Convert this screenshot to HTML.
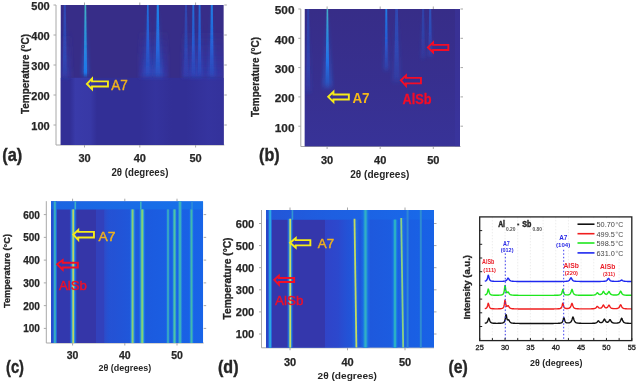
<!DOCTYPE html><html><head><meta charset="utf-8"><style>html,body{margin:0;padding:0;background:#fff;width:637px;height:383px;overflow:hidden}svg{display:block;font-family:"Liberation Sans",sans-serif;will-change:transform}</style></head><body><svg width="637" height="383" viewBox="0 0 637 383" font-family="Liberation Sans, sans-serif"><defs><filter id="blur" x="-1" y="-0.1" width="3" height="1.2"><feGaussianBlur stdDeviation="0.7"/></filter><filter id="lblur" x="-2" y="-0.05" width="5" height="1.1"><feGaussianBlur stdDeviation="0.55 0"/></filter><filter id="gblur" x="-1" y="-0.2" width="3" height="1.4"><feGaussianBlur stdDeviation="1.8"/></filter><filter id="blur2" x="-0.2" y="-0.2" width="1.4" height="1.4"><feGaussianBlur stdDeviation="2"/></filter><clipPath id="c1"><rect x="60.5" y="5" width="163.30" height="140.00"/></clipPath><linearGradient id="g1" x1="0" y1="0" x2="1" y2="0"><stop offset="0" stop-color="rgb(62,66,182)" stop-opacity="0"/><stop offset="0.2" stop-color="rgb(62,66,182)" stop-opacity="0.6"/><stop offset="0.75" stop-color="rgb(62,66,182)" stop-opacity="0.5"/><stop offset="1" stop-color="rgb(62,66,182)" stop-opacity="0"/></linearGradient><linearGradient id="g2" x1="0" y1="0" x2="1" y2="0"><stop offset="0" stop-color="rgb(58,60,175)" stop-opacity="0"/><stop offset="0.5" stop-color="rgb(58,60,175)" stop-opacity="0.3"/><stop offset="1" stop-color="rgb(58,60,175)" stop-opacity="0"/></linearGradient><linearGradient id="g3" x1="0" y1="0" x2="1" y2="0"><stop offset="0" stop-color="rgb(58,60,175)" stop-opacity="0"/><stop offset="0.6" stop-color="rgb(58,60,175)" stop-opacity="0.35"/><stop offset="1" stop-color="rgb(58,60,175)" stop-opacity="0.2"/></linearGradient><linearGradient id="g4" x1="0" y1="0" x2="0" y2="1"><stop offset="0" stop-color="rgb(52,55,170)" stop-opacity="0"/><stop offset="0.6" stop-color="rgb(52,55,170)" stop-opacity="0.44999999999999996"/><stop offset="1" stop-color="rgb(52,55,170)" stop-opacity="0.75"/></linearGradient><linearGradient id="g5" x1="0" y1="0" x2="0" y2="1"><stop offset="0" stop-color="rgb(52,55,170)" stop-opacity="0"/><stop offset="0.6" stop-color="rgb(52,55,170)" stop-opacity="0.51"/><stop offset="1" stop-color="rgb(52,55,170)" stop-opacity="0.85"/></linearGradient><linearGradient id="g6" x1="0" y1="0" x2="0" y2="1"><stop offset="0" stop-color="rgb(52,55,170)" stop-opacity="0"/><stop offset="0.6" stop-color="rgb(52,55,170)" stop-opacity="0.27"/><stop offset="1" stop-color="rgb(52,55,170)" stop-opacity="0.45"/></linearGradient><linearGradient id="g7" x1="0" y1="0" x2="0" y2="1"><stop offset="0" stop-color="rgb(40,100,225)" stop-opacity="0.5"/><stop offset="0.7" stop-color="rgb(40,90,210)" stop-opacity="0.45"/><stop offset="1" stop-color="rgb(40,90,210)" stop-opacity="0"/></linearGradient><linearGradient id="g8" x1="0" y1="0" x2="0" y2="1"><stop offset="0" stop-color="rgb(40,90,210)" stop-opacity="0"/><stop offset="0.5" stop-color="rgb(40,90,210)" stop-opacity="0.1"/><stop offset="0.9" stop-color="rgb(40,90,210)" stop-opacity="0.2"/><stop offset="1" stop-color="rgb(40,90,210)" stop-opacity="0"/></linearGradient><linearGradient id="g9" x1="0" y1="0" x2="0" y2="1"><stop offset="0" stop-color="rgb(70,180,195)" stop-opacity="1.0"/><stop offset="0.92" stop-color="rgb(25,125,240)" stop-opacity="0.9"/><stop offset="1" stop-color="rgb(25,125,240)" stop-opacity="0"/></linearGradient><linearGradient id="g10" x1="0" y1="0" x2="0" y2="1"><stop offset="0" stop-color="rgb(25,125,240)" stop-opacity="0"/><stop offset="0.5" stop-color="rgb(25,125,240)" stop-opacity="0.18000000000000002"/><stop offset="0.9" stop-color="rgb(25,125,240)" stop-opacity="0.36000000000000004"/><stop offset="1" stop-color="rgb(25,125,240)" stop-opacity="0"/></linearGradient><linearGradient id="g11" x1="0" y1="0" x2="0" y2="1"><stop offset="0" stop-color="rgb(30,125,235)" stop-opacity="0.85"/><stop offset="0.55" stop-color="rgb(35,100,225)" stop-opacity="0.765"/><stop offset="1" stop-color="rgb(35,100,225)" stop-opacity="0"/></linearGradient><linearGradient id="g12" x1="0" y1="0" x2="0" y2="1"><stop offset="0" stop-color="rgb(35,100,225)" stop-opacity="0"/><stop offset="0.5" stop-color="rgb(35,100,225)" stop-opacity="0.2"/><stop offset="0.9" stop-color="rgb(35,100,225)" stop-opacity="0.4"/><stop offset="1" stop-color="rgb(35,100,225)" stop-opacity="0"/></linearGradient><linearGradient id="g13" x1="0" y1="0" x2="0" y2="1"><stop offset="0" stop-color="rgb(30,140,240)" stop-opacity="0.95"/><stop offset="0.6" stop-color="rgb(35,110,230)" stop-opacity="0.855"/><stop offset="1" stop-color="rgb(35,110,230)" stop-opacity="0"/></linearGradient><linearGradient id="g14" x1="0" y1="0" x2="0" y2="1"><stop offset="0" stop-color="rgb(35,110,230)" stop-opacity="0"/><stop offset="0.5" stop-color="rgb(35,110,230)" stop-opacity="0.2"/><stop offset="0.9" stop-color="rgb(35,110,230)" stop-opacity="0.4"/><stop offset="1" stop-color="rgb(35,110,230)" stop-opacity="0"/></linearGradient><linearGradient id="g15" x1="0" y1="0" x2="0" y2="1"><stop offset="0" stop-color="rgb(40,95,215)" stop-opacity="0.5"/><stop offset="0.6" stop-color="rgb(40,90,210)" stop-opacity="0.45"/><stop offset="1" stop-color="rgb(40,90,210)" stop-opacity="0"/></linearGradient><linearGradient id="g16" x1="0" y1="0" x2="0" y2="1"><stop offset="0" stop-color="rgb(40,90,210)" stop-opacity="0"/><stop offset="0.5" stop-color="rgb(40,90,210)" stop-opacity="0.08000000000000002"/><stop offset="0.9" stop-color="rgb(40,90,210)" stop-opacity="0.16000000000000003"/><stop offset="1" stop-color="rgb(40,90,210)" stop-opacity="0"/></linearGradient><linearGradient id="g17" x1="0" y1="0" x2="0" y2="1"><stop offset="0" stop-color="rgb(30,125,235)" stop-opacity="0.8"/><stop offset="0.55" stop-color="rgb(35,100,225)" stop-opacity="0.7200000000000001"/><stop offset="1" stop-color="rgb(35,100,225)" stop-opacity="0"/></linearGradient><linearGradient id="g18" x1="0" y1="0" x2="0" y2="1"><stop offset="0" stop-color="rgb(35,100,225)" stop-opacity="0"/><stop offset="0.5" stop-color="rgb(35,100,225)" stop-opacity="0.12"/><stop offset="0.9" stop-color="rgb(35,100,225)" stop-opacity="0.24"/><stop offset="1" stop-color="rgb(35,100,225)" stop-opacity="0"/></linearGradient><linearGradient id="g19" x1="0" y1="0" x2="0" y2="1"><stop offset="0" stop-color="rgb(30,125,235)" stop-opacity="0.8"/><stop offset="0.55" stop-color="rgb(35,100,225)" stop-opacity="0.7200000000000001"/><stop offset="1" stop-color="rgb(35,100,225)" stop-opacity="0"/></linearGradient><linearGradient id="g20" x1="0" y1="0" x2="0" y2="1"><stop offset="0" stop-color="rgb(35,100,225)" stop-opacity="0"/><stop offset="0.5" stop-color="rgb(35,100,225)" stop-opacity="0.12"/><stop offset="0.9" stop-color="rgb(35,100,225)" stop-opacity="0.24"/><stop offset="1" stop-color="rgb(35,100,225)" stop-opacity="0"/></linearGradient><linearGradient id="g21" x1="0" y1="0" x2="0" y2="1"><stop offset="0" stop-color="rgb(30,135,240)" stop-opacity="0.9"/><stop offset="0.55" stop-color="rgb(35,105,228)" stop-opacity="0.81"/><stop offset="1" stop-color="rgb(35,105,228)" stop-opacity="0"/></linearGradient><linearGradient id="g22" x1="0" y1="0" x2="0" y2="1"><stop offset="0" stop-color="rgb(35,105,228)" stop-opacity="0"/><stop offset="0.5" stop-color="rgb(35,105,228)" stop-opacity="0.13999999999999999"/><stop offset="0.9" stop-color="rgb(35,105,228)" stop-opacity="0.27999999999999997"/><stop offset="1" stop-color="rgb(35,105,228)" stop-opacity="0"/></linearGradient><clipPath id="c2"><rect x="304.5" y="9" width="155.50" height="137.50"/></clipPath><linearGradient id="g23" x1="0" y1="0" x2="0" y2="1"><stop offset="0" stop-color="rgb(56,54,162)" stop-opacity="0"/><stop offset="0.5" stop-color="rgb(56,54,162)" stop-opacity="0.25"/><stop offset="1" stop-color="rgb(56,54,162)" stop-opacity="0.6"/></linearGradient><linearGradient id="g24" x1="0" y1="0" x2="0" y2="1"><stop offset="0" stop-color="rgb(40,90,210)" stop-opacity="0.45"/><stop offset="0.7" stop-color="rgb(40,85,205)" stop-opacity="0.405"/><stop offset="1" stop-color="rgb(40,85,205)" stop-opacity="0"/></linearGradient><linearGradient id="g25" x1="0" y1="0" x2="0" y2="1"><stop offset="0" stop-color="rgb(40,85,205)" stop-opacity="0"/><stop offset="0.5" stop-color="rgb(40,85,205)" stop-opacity="0.08000000000000002"/><stop offset="0.9" stop-color="rgb(40,85,205)" stop-opacity="0.16000000000000003"/><stop offset="1" stop-color="rgb(40,85,205)" stop-opacity="0"/></linearGradient><linearGradient id="g26" x1="0" y1="0" x2="0" y2="1"><stop offset="0" stop-color="rgb(70,175,200)" stop-opacity="1.0"/><stop offset="0.65" stop-color="rgb(30,120,238)" stop-opacity="0.9"/><stop offset="1" stop-color="rgb(30,120,238)" stop-opacity="0"/></linearGradient><linearGradient id="g27" x1="0" y1="0" x2="0" y2="1"><stop offset="0" stop-color="rgb(30,120,238)" stop-opacity="0"/><stop offset="0.5" stop-color="rgb(30,120,238)" stop-opacity="0.18000000000000002"/><stop offset="0.9" stop-color="rgb(30,120,238)" stop-opacity="0.36000000000000004"/><stop offset="1" stop-color="rgb(30,120,238)" stop-opacity="0"/></linearGradient><linearGradient id="g28" x1="0" y1="0" x2="0" y2="1"><stop offset="0" stop-color="rgb(30,135,240)" stop-opacity="0.9"/><stop offset="0.5" stop-color="rgb(35,100,225)" stop-opacity="0.81"/><stop offset="1" stop-color="rgb(35,100,225)" stop-opacity="0"/></linearGradient><linearGradient id="g29" x1="0" y1="0" x2="0" y2="1"><stop offset="0" stop-color="rgb(35,100,225)" stop-opacity="0"/><stop offset="0.5" stop-color="rgb(35,100,225)" stop-opacity="0.12"/><stop offset="0.9" stop-color="rgb(35,100,225)" stop-opacity="0.24"/><stop offset="1" stop-color="rgb(35,100,225)" stop-opacity="0"/></linearGradient><linearGradient id="g30" x1="0" y1="0" x2="0" y2="1"><stop offset="0" stop-color="rgb(40,100,220)" stop-opacity="0.5"/><stop offset="0.55" stop-color="rgb(40,95,215)" stop-opacity="0.45"/><stop offset="1" stop-color="rgb(40,95,215)" stop-opacity="0"/></linearGradient><linearGradient id="g31" x1="0" y1="0" x2="0" y2="1"><stop offset="0" stop-color="rgb(40,95,215)" stop-opacity="0"/><stop offset="0.5" stop-color="rgb(40,95,215)" stop-opacity="0.1"/><stop offset="0.9" stop-color="rgb(40,95,215)" stop-opacity="0.2"/><stop offset="1" stop-color="rgb(40,95,215)" stop-opacity="0"/></linearGradient><linearGradient id="g32" x1="0" y1="0" x2="0" y2="1"><stop offset="0" stop-color="rgb(40,95,215)" stop-opacity="0.4"/><stop offset="0.5" stop-color="rgb(40,90,210)" stop-opacity="0.36000000000000004"/><stop offset="1" stop-color="rgb(40,90,210)" stop-opacity="0"/></linearGradient><linearGradient id="g33" x1="0" y1="0" x2="0" y2="1"><stop offset="0" stop-color="rgb(40,90,210)" stop-opacity="0"/><stop offset="0.5" stop-color="rgb(40,90,210)" stop-opacity="0.08000000000000002"/><stop offset="0.9" stop-color="rgb(40,90,210)" stop-opacity="0.16000000000000003"/><stop offset="1" stop-color="rgb(40,90,210)" stop-opacity="0"/></linearGradient><linearGradient id="g34" x1="0" y1="0" x2="0" y2="1"><stop offset="0" stop-color="rgb(40,110,225)" stop-opacity="0.55"/><stop offset="0.5" stop-color="rgb(40,95,215)" stop-opacity="0.49500000000000005"/><stop offset="1" stop-color="rgb(40,95,215)" stop-opacity="0"/></linearGradient><linearGradient id="g35" x1="0" y1="0" x2="0" y2="1"><stop offset="0" stop-color="rgb(40,95,215)" stop-opacity="0"/><stop offset="0.5" stop-color="rgb(40,95,215)" stop-opacity="0.1"/><stop offset="0.9" stop-color="rgb(40,95,215)" stop-opacity="0.2"/><stop offset="1" stop-color="rgb(40,95,215)" stop-opacity="0"/></linearGradient><clipPath id="c3"><rect x="51" y="201.2" width="152.20" height="141.80"/></clipPath><linearGradient id="g36" x1="0" y1="0" x2="1" y2="0"><stop offset="0" stop-color="rgb(35,78,208)" stop-opacity="1"/><stop offset="0.35" stop-color="rgb(38,80,210)" stop-opacity="1"/><stop offset="0.6" stop-color="rgb(28,90,222)" stop-opacity="1"/><stop offset="1" stop-color="rgb(24,100,232)" stop-opacity="1"/></linearGradient><linearGradient id="g37" x1="0" y1="0" x2="1" y2="0"><stop offset="0" stop-color="rgb(45,75,200)" stop-opacity="1"/><stop offset="1" stop-color="rgb(30,88,218)" stop-opacity="0"/></linearGradient><linearGradient id="g38" x1="0" y1="0" x2="1" y2="0"><stop offset="0" stop-color="rgb(28,100,225)" stop-opacity="1"/><stop offset="1" stop-color="rgb(22,114,234)" stop-opacity="1"/></linearGradient><linearGradient id="g39" x1="0" y1="0" x2="1" y2="0"><stop offset="0" stop-color="rgb(30,110,232)" stop-opacity="0"/><stop offset="0.3" stop-color="rgb(30,110,232)" stop-opacity="0.8"/><stop offset="0.7" stop-color="rgb(30,110,232)" stop-opacity="0.8"/><stop offset="1" stop-color="rgb(30,110,232)" stop-opacity="0"/></linearGradient><linearGradient id="g40" x1="0" y1="0" x2="1" y2="0"><stop offset="0" stop-color="rgb(25,115,238)" stop-opacity="0"/><stop offset="0.3" stop-color="rgb(25,115,238)" stop-opacity="1.0"/><stop offset="0.7" stop-color="rgb(25,115,238)" stop-opacity="1.0"/><stop offset="1" stop-color="rgb(25,115,238)" stop-opacity="0"/></linearGradient><linearGradient id="g41" x1="0" y1="0" x2="1" y2="0"><stop offset="0" stop-color="rgb(30,130,238)" stop-opacity="0"/><stop offset="0.3" stop-color="rgb(30,130,238)" stop-opacity="0.9"/><stop offset="0.7" stop-color="rgb(30,130,238)" stop-opacity="0.9"/><stop offset="1" stop-color="rgb(30,130,238)" stop-opacity="0"/></linearGradient><linearGradient id="g42" x1="0" y1="0" x2="1" y2="0"><stop offset="0" stop-color="rgb(30,130,238)" stop-opacity="0"/><stop offset="0.3" stop-color="rgb(30,130,238)" stop-opacity="0.9"/><stop offset="0.7" stop-color="rgb(30,130,238)" stop-opacity="0.9"/><stop offset="1" stop-color="rgb(30,130,238)" stop-opacity="0"/></linearGradient><linearGradient id="g43" x1="0" y1="0" x2="1" y2="0"><stop offset="0" stop-color="rgb(30,120,232)" stop-opacity="0"/><stop offset="0.3" stop-color="rgb(30,120,232)" stop-opacity="0.8"/><stop offset="0.7" stop-color="rgb(30,120,232)" stop-opacity="0.8"/><stop offset="1" stop-color="rgb(30,120,232)" stop-opacity="0"/></linearGradient><linearGradient id="g44" x1="0" y1="0" x2="1" y2="0"><stop offset="0" stop-color="rgb(30,120,232)" stop-opacity="0"/><stop offset="0.3" stop-color="rgb(30,120,232)" stop-opacity="0.8"/><stop offset="0.7" stop-color="rgb(30,120,232)" stop-opacity="0.8"/><stop offset="1" stop-color="rgb(30,120,232)" stop-opacity="0"/></linearGradient><linearGradient id="g45" x1="0" y1="0" x2="1" y2="0"><stop offset="0" stop-color="rgb(30,120,232)" stop-opacity="0"/><stop offset="0.3" stop-color="rgb(30,120,232)" stop-opacity="0.8"/><stop offset="0.7" stop-color="rgb(30,120,232)" stop-opacity="0.8"/><stop offset="1" stop-color="rgb(30,120,232)" stop-opacity="0"/></linearGradient><linearGradient id="g46" x1="0" y1="0" x2="1" y2="0"><stop offset="0" stop-color="rgb(30,120,232)" stop-opacity="0"/><stop offset="0.3" stop-color="rgb(30,120,232)" stop-opacity="0.7"/><stop offset="0.7" stop-color="rgb(30,120,232)" stop-opacity="0.7"/><stop offset="1" stop-color="rgb(30,120,232)" stop-opacity="0"/></linearGradient><clipPath id="c4"><rect x="266" y="210" width="168.00" height="137.80"/></clipPath><linearGradient id="g47" x1="0" y1="0" x2="1" y2="0"><stop offset="0" stop-color="rgb(40,78,205)" stop-opacity="1"/><stop offset="0.5" stop-color="rgb(32,86,218)" stop-opacity="1"/><stop offset="1" stop-color="rgb(24,98,230)" stop-opacity="1"/></linearGradient><linearGradient id="g48" x1="0" y1="0" x2="1" y2="0"><stop offset="0" stop-color="rgb(48,68,200)" stop-opacity="1"/><stop offset="0.4" stop-color="rgb(44,72,205)" stop-opacity="1"/><stop offset="1" stop-color="rgb(32,86,218)" stop-opacity="0"/></linearGradient><linearGradient id="g49" x1="0" y1="0" x2="1" y2="0"><stop offset="0" stop-color="rgb(35,85,215)" stop-opacity="1"/><stop offset="0.4" stop-color="rgb(30,95,225)" stop-opacity="1"/><stop offset="1" stop-color="rgb(24,106,234)" stop-opacity="1"/></linearGradient><linearGradient id="g50" x1="0" y1="0" x2="1" y2="0"><stop offset="0" stop-color="rgb(30,110,232)" stop-opacity="0"/><stop offset="0.3" stop-color="rgb(30,110,232)" stop-opacity="0.8"/><stop offset="0.7" stop-color="rgb(30,110,232)" stop-opacity="0.8"/><stop offset="1" stop-color="rgb(30,110,232)" stop-opacity="0"/></linearGradient><linearGradient id="g51" x1="0" y1="0" x2="1" y2="0"><stop offset="0" stop-color="rgb(25,110,235)" stop-opacity="0"/><stop offset="0.3" stop-color="rgb(25,110,235)" stop-opacity="0.9"/><stop offset="0.7" stop-color="rgb(25,110,235)" stop-opacity="0.9"/><stop offset="1" stop-color="rgb(25,110,235)" stop-opacity="0"/></linearGradient><linearGradient id="g52" x1="0" y1="0" x2="1" y2="0"><stop offset="0" stop-color="rgb(30,120,235)" stop-opacity="0"/><stop offset="0.5" stop-color="rgb(30,120,235)" stop-opacity="0.7"/><stop offset="1" stop-color="rgb(30,120,235)" stop-opacity="0"/></linearGradient><linearGradient id="g53" x1="0" y1="0" x2="1" y2="0"><stop offset="0" stop-color="rgb(25,115,232)" stop-opacity="0"/><stop offset="0.3" stop-color="rgb(25,115,232)" stop-opacity="0.8"/><stop offset="0.7" stop-color="rgb(25,115,232)" stop-opacity="0.8"/><stop offset="1" stop-color="rgb(25,115,232)" stop-opacity="0"/></linearGradient><linearGradient id="g54" x1="0" y1="0" x2="1" y2="0"><stop offset="0" stop-color="rgb(25,115,232)" stop-opacity="0"/><stop offset="0.3" stop-color="rgb(25,115,232)" stop-opacity="0.8"/><stop offset="0.7" stop-color="rgb(25,115,232)" stop-opacity="0.8"/><stop offset="1" stop-color="rgb(25,115,232)" stop-opacity="0"/></linearGradient><linearGradient id="g55" x1="0" y1="0" x2="1" y2="0"><stop offset="0" stop-color="rgb(30,120,235)" stop-opacity="0"/><stop offset="0.5" stop-color="rgb(30,120,235)" stop-opacity="0.7"/><stop offset="1" stop-color="rgb(30,120,235)" stop-opacity="0"/></linearGradient></defs><rect width="637" height="383" fill="#fff"/><line x1="56" y1="5" x2="56" y2="145" stroke="#a8a8a8" stroke-width="1"/>
<line x1="56" y1="145" x2="224.3" y2="145" stroke="#a8a8a8" stroke-width="1"/>
<line x1="53.5" y1="5" x2="56" y2="5" stroke="#a8a8a8" stroke-width="1"/>
<line x1="224.3" y1="5" x2="226.8" y2="5" stroke="#a8a8a8" stroke-width="1"/>
<text x="49.7" y="10.2" font-size="11" font-weight="bold" fill="#262626" text-anchor="end" stroke="#262626" stroke-width="0.25">500</text>
<line x1="53.5" y1="35" x2="56" y2="35" stroke="#a8a8a8" stroke-width="1"/>
<line x1="224.3" y1="35" x2="226.8" y2="35" stroke="#a8a8a8" stroke-width="1"/>
<text x="49.7" y="40.2" font-size="11" font-weight="bold" fill="#262626" text-anchor="end" stroke="#262626" stroke-width="0.25">400</text>
<line x1="53.5" y1="65" x2="56" y2="65" stroke="#a8a8a8" stroke-width="1"/>
<line x1="224.3" y1="65" x2="226.8" y2="65" stroke="#a8a8a8" stroke-width="1"/>
<text x="49.7" y="70.2" font-size="11" font-weight="bold" fill="#262626" text-anchor="end" stroke="#262626" stroke-width="0.25">300</text>
<line x1="53.5" y1="95" x2="56" y2="95" stroke="#a8a8a8" stroke-width="1"/>
<line x1="224.3" y1="95" x2="226.8" y2="95" stroke="#a8a8a8" stroke-width="1"/>
<text x="49.7" y="100.2" font-size="11" font-weight="bold" fill="#262626" text-anchor="end" stroke="#262626" stroke-width="0.25">200</text>
<line x1="53.5" y1="125" x2="56" y2="125" stroke="#a8a8a8" stroke-width="1"/>
<line x1="224.3" y1="125" x2="226.8" y2="125" stroke="#a8a8a8" stroke-width="1"/>
<text x="49.7" y="130.2" font-size="11" font-weight="bold" fill="#262626" text-anchor="end" stroke="#262626" stroke-width="0.25">100</text>
<line x1="84.5" y1="145" x2="84.5" y2="147.5" stroke="#a8a8a8" stroke-width="1"/>
<line x1="84.5" y1="2.5" x2="84.5" y2="5" stroke="#a8a8a8" stroke-width="1"/>
<text x="84.5" y="162.3" font-size="11" font-weight="bold" fill="#262626" text-anchor="middle" stroke="#262626" stroke-width="0.25">30</text>
<line x1="139.8" y1="145" x2="139.8" y2="147.5" stroke="#a8a8a8" stroke-width="1"/>
<line x1="139.8" y1="2.5" x2="139.8" y2="5" stroke="#a8a8a8" stroke-width="1"/>
<text x="139.8" y="162.3" font-size="11" font-weight="bold" fill="#262626" text-anchor="middle" stroke="#262626" stroke-width="0.25">40</text>
<line x1="195.6" y1="145" x2="195.6" y2="147.5" stroke="#a8a8a8" stroke-width="1"/>
<line x1="195.6" y1="2.5" x2="195.6" y2="5" stroke="#a8a8a8" stroke-width="1"/>
<text x="195.6" y="162.3" font-size="11" font-weight="bold" fill="#262626" text-anchor="middle" stroke="#262626" stroke-width="0.25">50</text>
<g clip-path="url(#c1)">
<rect x="60.50" y="5.00" width="163.30" height="140.00" fill="rgb(55,45,136)"/>
<rect x="60.50" y="77.80" width="163.30" height="67.20" fill="rgb(50,47,150)"/>
<rect x="70.00" y="77.80" width="27.00" height="67.20" fill="url(#g1)"/>
<rect x="140.00" y="77.80" width="32.00" height="67.20" fill="url(#g2)"/>
<rect x="186.00" y="77.80" width="37.80" height="67.20" fill="url(#g3)"/>
<rect x="139.00" y="30.00" width="29.00" height="47.80" fill="url(#g4)" filter="url(#gblur)"/>
<rect x="182.00" y="30.00" width="41.80" height="47.80" fill="url(#g5)" filter="url(#gblur)"/>
<rect x="60.50" y="30.00" width="11.50" height="47.80" fill="url(#g6)" filter="url(#gblur)"/>
<path d="M63.80,5 L65.80,5 L66.80,80 L62.80,80 Z" fill="url(#g7)" filter="url(#blur)"/>
<path d="M62.80,5 L66.80,5 L68.80,81 L60.80,81 Z" fill="url(#g8)" filter="url(#gblur)"/>
<path d="M84.60,5 L86.20,5 L87.10,78 L83.70,78 Z" fill="url(#g9)" filter="url(#blur)"/>
<path d="M83.80,5 L87.00,5 L89.40,79 L81.40,79 Z" fill="url(#g10)" filter="url(#gblur)"/>
<path d="M147.00,5 L148.60,5 L149.80,79 L145.80,79 Z" fill="url(#g11)" filter="url(#blur)"/>
<path d="M146.20,5 L149.40,5 L152.80,80 L142.80,80 Z" fill="url(#g12)" filter="url(#gblur)"/>
<path d="M156.80,5 L158.80,5 L160.05,79 L155.55,79 Z" fill="url(#g13)" filter="url(#blur)"/>
<path d="M155.80,5 L159.80,5 L163.30,80 L152.30,80 Z" fill="url(#g14)" filter="url(#gblur)"/>
<path d="M185.00,5 L187.00,5 L188.00,79 L184.00,79 Z" fill="url(#g15)" filter="url(#blur)"/>
<path d="M184.00,5 L188.00,5 L189.00,80 L183.00,80 Z" fill="url(#g16)" filter="url(#gblur)"/>
<path d="M192.40,5 L194.20,5 L195.05,79 L191.55,79 Z" fill="url(#g17)" filter="url(#blur)"/>
<path d="M191.50,5 L195.10,5 L197.30,80 L189.30,80 Z" fill="url(#g18)" filter="url(#gblur)"/>
<path d="M198.70,5 L200.50,5 L201.35,79 L197.85,79 Z" fill="url(#g19)" filter="url(#blur)"/>
<path d="M197.80,5 L201.40,5 L203.60,80 L195.60,80 Z" fill="url(#g20)" filter="url(#gblur)"/>
<path d="M210.80,5 L212.80,5 L213.80,79 L209.80,79 Z" fill="url(#g21)" filter="url(#blur)"/>
<path d="M209.80,5 L213.80,5 L216.30,80 L207.30,80 Z" fill="url(#g22)" filter="url(#gblur)"/>
</g>
<text x="2.3" y="161.0" font-size="18.5" font-weight="bold" fill="#262626" textLength="20" lengthAdjust="spacingAndGlyphs" stroke="#262626" stroke-width="0.4">(a)</text>
<text x="139.9" y="176" font-size="10" font-weight="bold" fill="#262626" text-anchor="middle" textLength="57" lengthAdjust="spacingAndGlyphs">2θ (degrees)</text>
<text transform="translate(28.5,74) rotate(-90)" font-size="10" font-weight="bold" fill="#262626" text-anchor="middle" textLength="80" lengthAdjust="spacingAndGlyphs" stroke="#262626" stroke-width="0.3">Temperature (°C)</text>
<path d="M86.93,83.90 L92.05,78.59 L92.05,81.35 L107.95,81.35 L107.95,86.45 L92.05,86.45 L92.05,89.21 Z" fill="none" stroke="rgb(245,235,25)" stroke-width="1.9" stroke-linejoin="miter"/>
<text x="111.2" y="89.9" font-size="14.5" fill="rgb(240,178,30)" textLength="16.6" lengthAdjust="spacingAndGlyphs" stroke="rgb(240,178,30)" stroke-width="0.4">A7</text>
<line x1="300.8" y1="9" x2="300.8" y2="146.5" stroke="#a8a8a8" stroke-width="1"/>
<line x1="300.8" y1="146.5" x2="460.5" y2="146.5" stroke="#a8a8a8" stroke-width="1"/>
<line x1="298.3" y1="9" x2="300.8" y2="9" stroke="#a8a8a8" stroke-width="1"/>
<line x1="460.5" y1="9" x2="463.0" y2="9" stroke="#a8a8a8" stroke-width="1"/>
<text x="294.5" y="14.3" font-size="11.8" font-weight="bold" fill="#262626" text-anchor="end" stroke="#262626" stroke-width="0.25">500</text>
<line x1="298.3" y1="38.3" x2="300.8" y2="38.3" stroke="#a8a8a8" stroke-width="1"/>
<line x1="460.5" y1="38.3" x2="463.0" y2="38.3" stroke="#a8a8a8" stroke-width="1"/>
<text x="294.5" y="43.599999999999994" font-size="11.8" font-weight="bold" fill="#262626" text-anchor="end" stroke="#262626" stroke-width="0.25">400</text>
<line x1="298.3" y1="67.6" x2="300.8" y2="67.6" stroke="#a8a8a8" stroke-width="1"/>
<line x1="460.5" y1="67.6" x2="463.0" y2="67.6" stroke="#a8a8a8" stroke-width="1"/>
<text x="294.5" y="72.89999999999999" font-size="11.8" font-weight="bold" fill="#262626" text-anchor="end" stroke="#262626" stroke-width="0.25">300</text>
<line x1="298.3" y1="96.9" x2="300.8" y2="96.9" stroke="#a8a8a8" stroke-width="1"/>
<line x1="460.5" y1="96.9" x2="463.0" y2="96.9" stroke="#a8a8a8" stroke-width="1"/>
<text x="294.5" y="102.2" font-size="11.8" font-weight="bold" fill="#262626" text-anchor="end" stroke="#262626" stroke-width="0.25">200</text>
<line x1="298.3" y1="126.2" x2="300.8" y2="126.2" stroke="#a8a8a8" stroke-width="1"/>
<line x1="460.5" y1="126.2" x2="463.0" y2="126.2" stroke="#a8a8a8" stroke-width="1"/>
<text x="294.5" y="131.5" font-size="11.8" font-weight="bold" fill="#262626" text-anchor="end" stroke="#262626" stroke-width="0.25">100</text>
<line x1="327.1" y1="146.5" x2="327.1" y2="149.0" stroke="#a8a8a8" stroke-width="1"/>
<line x1="327.1" y1="6.5" x2="327.1" y2="9" stroke="#a8a8a8" stroke-width="1"/>
<text x="327.1" y="164.3" font-size="11" font-weight="bold" fill="#262626" text-anchor="middle" stroke="#262626" stroke-width="0.25">30</text>
<line x1="380.2" y1="146.5" x2="380.2" y2="149.0" stroke="#a8a8a8" stroke-width="1"/>
<line x1="380.2" y1="6.5" x2="380.2" y2="9" stroke="#a8a8a8" stroke-width="1"/>
<text x="380.2" y="164.3" font-size="11" font-weight="bold" fill="#262626" text-anchor="middle" stroke="#262626" stroke-width="0.25">40</text>
<line x1="433.3" y1="146.5" x2="433.3" y2="149.0" stroke="#a8a8a8" stroke-width="1"/>
<line x1="433.3" y1="6.5" x2="433.3" y2="9" stroke="#a8a8a8" stroke-width="1"/>
<text x="433.3" y="164.3" font-size="11" font-weight="bold" fill="#262626" text-anchor="middle" stroke="#262626" stroke-width="0.25">50</text>
<g clip-path="url(#c2)">
<rect x="304.50" y="9.00" width="155.50" height="137.50" fill="rgb(55,45,136)"/>
<rect x="304.50" y="9.00" width="155.50" height="137.50" fill="url(#g23)"/>
<path d="M307.20,9 L309.20,9 L310.20,95 L306.20,95 Z" fill="url(#g24)" filter="url(#blur)"/>
<path d="M306.20,9 L310.20,9 L312.20,96 L304.20,96 Z" fill="url(#g25)" filter="url(#gblur)"/>
<path d="M326.65,9 L328.15,9 L329.40,90 L325.40,90 Z" fill="url(#g26)" filter="url(#blur)"/>
<path d="M325.90,9 L328.90,9 L332.90,91 L321.90,91 Z" fill="url(#g27)" filter="url(#gblur)"/>
<path d="M385.40,9 L387.20,9 L387.90,72 L384.70,72 Z" fill="url(#g28)" filter="url(#blur)"/>
<path d="M384.50,9 L388.10,9 L389.80,73 L382.80,73 Z" fill="url(#g29)" filter="url(#gblur)"/>
<path d="M395.30,9 L397.90,9 L399.10,84 L394.10,84 Z" fill="url(#g30)" filter="url(#blur)"/>
<path d="M394.00,9 L399.20,9 L401.60,85 L391.60,85 Z" fill="url(#g31)" filter="url(#gblur)"/>
<path d="M422.10,9 L424.10,9 L424.85,60 L421.35,60 Z" fill="url(#g32)" filter="url(#blur)"/>
<path d="M421.10,9 L425.10,9 L426.10,61 L420.10,61 Z" fill="url(#g33)" filter="url(#gblur)"/>
<path d="M429.20,9 L431.20,9 L431.95,58 L428.45,58 Z" fill="url(#g34)" filter="url(#blur)"/>
<path d="M428.20,9 L432.20,9 L433.20,59 L427.20,59 Z" fill="url(#g35)" filter="url(#gblur)"/>
<rect x="455.00" y="9.00" width="5.00" height="137.50" fill="rgb(60,55,165)" opacity="0.4"/>
</g>
<text x="259.1" y="161.1" font-size="18.5" font-weight="bold" fill="#262626" textLength="20.6" lengthAdjust="spacingAndGlyphs" stroke="#262626" stroke-width="0.4">(b)</text>
<text x="379.8" y="178" font-size="10" font-weight="bold" fill="#262626" text-anchor="middle" textLength="59.2" lengthAdjust="spacingAndGlyphs">2θ (degrees)</text>
<text transform="translate(259,77) rotate(-90)" font-size="10" font-weight="bold" fill="#262626" text-anchor="middle" textLength="80" lengthAdjust="spacingAndGlyphs" stroke="#262626" stroke-width="0.3">Temperature (°C)</text>
<path d="M328.23,96.80 L333.45,91.79 L333.45,94.55 L348.85,94.55 L348.85,99.45 L333.45,99.45 L333.45,102.01 Z" fill="none" stroke="rgb(245,235,25)" stroke-width="1.9" stroke-linejoin="miter"/>
<text x="352.4" y="103" font-size="14" font-weight="bold" fill="rgb(245,185,25)" textLength="17.2" lengthAdjust="spacingAndGlyphs">A7</text>
<path d="M427.93,47.40 L433.05,42.39 L433.05,44.85 L448.35,44.85 L448.35,50.05 L433.05,50.05 L433.05,52.31 Z" fill="none" stroke="rgb(245,12,38)" stroke-width="1.9" stroke-linejoin="miter"/>
<path d="M400.93,80.30 L405.95,75.39 L405.95,77.85 L420.95,77.85 L420.95,83.35 L405.95,83.35 L405.95,85.81 Z" fill="none" stroke="rgb(245,12,38)" stroke-width="1.9" stroke-linejoin="miter"/>
<text x="402.6" y="103.8" font-size="14" font-weight="bold" fill="rgb(245,12,38)" textLength="29" lengthAdjust="spacingAndGlyphs" stroke="rgb(245,12,38)" stroke-width="0.3">AlSb</text>
<line x1="46.3" y1="201.2" x2="46.3" y2="343" stroke="#a8a8a8" stroke-width="1"/>
<line x1="46.3" y1="343" x2="203.7" y2="343" stroke="#a8a8a8" stroke-width="1"/>
<line x1="43.8" y1="214.59999999999997" x2="46.3" y2="214.59999999999997" stroke="#a8a8a8" stroke-width="1"/>
<line x1="203.7" y1="214.59999999999997" x2="206.2" y2="214.59999999999997" stroke="#a8a8a8" stroke-width="1"/>
<text x="39.9" y="218.59999999999997" font-size="10" font-weight="bold" fill="#262626" text-anchor="end" stroke="#262626" stroke-width="0.25">600</text>
<line x1="43.8" y1="237.35999999999999" x2="46.3" y2="237.35999999999999" stroke="#a8a8a8" stroke-width="1"/>
<line x1="203.7" y1="237.35999999999999" x2="206.2" y2="237.35999999999999" stroke="#a8a8a8" stroke-width="1"/>
<text x="39.9" y="241.35999999999999" font-size="10" font-weight="bold" fill="#262626" text-anchor="end" stroke="#262626" stroke-width="0.25">500</text>
<line x1="43.8" y1="260.12" x2="46.3" y2="260.12" stroke="#a8a8a8" stroke-width="1"/>
<line x1="203.7" y1="260.12" x2="206.2" y2="260.12" stroke="#a8a8a8" stroke-width="1"/>
<text x="39.9" y="264.12" font-size="10" font-weight="bold" fill="#262626" text-anchor="end" stroke="#262626" stroke-width="0.25">400</text>
<line x1="43.8" y1="282.88" x2="46.3" y2="282.88" stroke="#a8a8a8" stroke-width="1"/>
<line x1="203.7" y1="282.88" x2="206.2" y2="282.88" stroke="#a8a8a8" stroke-width="1"/>
<text x="39.9" y="286.88" font-size="10" font-weight="bold" fill="#262626" text-anchor="end" stroke="#262626" stroke-width="0.25">300</text>
<line x1="43.8" y1="305.64" x2="46.3" y2="305.64" stroke="#a8a8a8" stroke-width="1"/>
<line x1="203.7" y1="305.64" x2="206.2" y2="305.64" stroke="#a8a8a8" stroke-width="1"/>
<text x="39.9" y="309.64" font-size="10" font-weight="bold" fill="#262626" text-anchor="end" stroke="#262626" stroke-width="0.25">200</text>
<line x1="43.8" y1="328.4" x2="46.3" y2="328.4" stroke="#a8a8a8" stroke-width="1"/>
<line x1="203.7" y1="328.4" x2="206.2" y2="328.4" stroke="#a8a8a8" stroke-width="1"/>
<text x="39.9" y="332.4" font-size="10" font-weight="bold" fill="#262626" text-anchor="end" stroke="#262626" stroke-width="0.25">100</text>
<line x1="72.6" y1="343" x2="72.6" y2="345.5" stroke="#a8a8a8" stroke-width="1"/>
<line x1="72.6" y1="198.7" x2="72.6" y2="201.2" stroke="#a8a8a8" stroke-width="1"/>
<text x="72.6" y="359" font-size="10.5" font-weight="bold" fill="#262626" text-anchor="middle" stroke="#262626" stroke-width="0.25">30</text>
<line x1="124.8" y1="343" x2="124.8" y2="345.5" stroke="#a8a8a8" stroke-width="1"/>
<line x1="124.8" y1="198.7" x2="124.8" y2="201.2" stroke="#a8a8a8" stroke-width="1"/>
<text x="124.8" y="359" font-size="10.5" font-weight="bold" fill="#262626" text-anchor="middle" stroke="#262626" stroke-width="0.25">40</text>
<line x1="177" y1="343" x2="177" y2="345.5" stroke="#a8a8a8" stroke-width="1"/>
<line x1="177" y1="198.7" x2="177" y2="201.2" stroke="#a8a8a8" stroke-width="1"/>
<text x="177" y="359" font-size="10.5" font-weight="bold" fill="#262626" text-anchor="middle" stroke="#262626" stroke-width="0.25">50</text>
<g clip-path="url(#c3)">
<rect x="51.00" y="201.20" width="152.20" height="141.80" fill="url(#g36)"/>
<rect x="51.00" y="201.20" width="6.00" height="141.80" fill="rgb(40,75,205)"/>
<rect x="57.00" y="209.40" width="19.00" height="133.60" fill="rgb(50,56,174)"/>
<rect x="76.00" y="209.40" width="20.00" height="133.60" fill="rgb(53,54,168)"/>
<rect x="96.00" y="209.40" width="8.50" height="133.60" fill="rgb(50,65,188)"/>
<rect x="104.50" y="209.40" width="7.50" height="133.60" fill="url(#g37)"/>
<rect x="51.00" y="201.20" width="152.20" height="8.20" fill="url(#g38)"/>
<rect x="52.70" y="201.20" width="4.40" height="141.80" fill="url(#g39)"/>
<rect x="53.40" y="201.20" width="3.00" height="141.80" fill="rgb(35,135,220)" filter="url(#lblur)" opacity="0.8"/>
<rect x="54.15" y="201.20" width="1.50" height="141.80" fill="rgb(60,180,185)" filter="url(#lblur)"/>
<rect x="69.40" y="209.40" width="7.60" height="133.60" fill="url(#g40)"/>
<rect x="71.60" y="209.40" width="3.20" height="133.60" fill="rgb(70,170,200)" filter="url(#lblur)" opacity="0.8"/>
<rect x="72.40" y="209.40" width="1.60" height="133.60" fill="rgb(185,215,100)" filter="url(#lblur)"/>
<rect x="74.50" y="201.20" width="1.60" height="8.20" fill="rgb(60,175,195)" filter="url(#lblur)"/>
<rect x="129.40" y="209.40" width="6.40" height="133.60" fill="url(#g41)"/>
<rect x="131.00" y="209.40" width="3.20" height="133.60" fill="rgb(60,170,200)" filter="url(#lblur)" opacity="0.8"/>
<rect x="131.80" y="209.40" width="1.60" height="133.60" fill="rgb(140,205,115)" filter="url(#lblur)"/>
<rect x="138.70" y="209.40" width="7.00" height="133.60" fill="url(#g42)"/>
<rect x="140.40" y="209.40" width="3.60" height="133.60" fill="rgb(60,175,195)" filter="url(#lblur)" opacity="0.8"/>
<rect x="141.30" y="209.40" width="1.80" height="133.60" fill="rgb(130,210,120)" filter="url(#lblur)"/>
<rect x="140.00" y="201.20" width="1.60" height="8.20" fill="rgb(60,175,195)" filter="url(#lblur)"/>
<rect x="165.50" y="209.40" width="5.00" height="133.60" fill="url(#g43)"/>
<rect x="167.20" y="209.40" width="1.60" height="133.60" fill="rgb(60,175,190)" filter="url(#lblur)"/>
<rect x="171.70" y="209.40" width="5.60" height="133.60" fill="url(#g44)"/>
<rect x="172.90" y="209.40" width="3.20" height="133.60" fill="rgb(50,160,205)" filter="url(#lblur)" opacity="0.8"/>
<rect x="173.70" y="209.40" width="1.60" height="133.60" fill="rgb(80,195,165)" filter="url(#lblur)"/>
<rect x="177.20" y="201.20" width="5.60" height="141.80" fill="url(#g45)"/>
<rect x="178.40" y="201.20" width="3.20" height="141.80" fill="rgb(50,160,205)" filter="url(#lblur)" opacity="0.8"/>
<rect x="179.20" y="201.20" width="1.60" height="141.80" fill="rgb(60,185,185)" filter="url(#lblur)"/>
<rect x="188.70" y="209.40" width="5.60" height="133.60" fill="url(#g46)"/>
<rect x="190.00" y="209.40" width="3.00" height="133.60" fill="rgb(45,150,210)" filter="url(#lblur)" opacity="0.8"/>
<rect x="190.75" y="209.40" width="1.50" height="133.60" fill="rgb(65,185,175)" filter="url(#lblur)"/>
<rect x="191.25" y="201.20" width="1.50" height="8.20" fill="rgb(45,140,215)" filter="url(#lblur)"/>
</g>
<text x="6" y="373.0" font-size="17.6" font-weight="bold" fill="#262626" textLength="18" lengthAdjust="spacingAndGlyphs" stroke="#262626" stroke-width="0.4">(c)</text>
<text x="124.85" y="371" font-size="9.5" font-weight="bold" fill="#262626" text-anchor="middle" textLength="52.7" lengthAdjust="spacingAndGlyphs">2θ (degrees)</text>
<text transform="translate(9.5,271) rotate(-90)" font-size="9" font-weight="bold" fill="#262626" text-anchor="middle" textLength="74" lengthAdjust="spacingAndGlyphs" stroke="#262626" stroke-width="0.3">Temperature (°C)</text>
<path d="M73.23,234.60 L78.25,229.99 L78.25,231.85 L93.95,231.85 L93.95,237.45 L78.25,237.45 L78.25,239.81 Z" fill="none" stroke="rgb(245,235,25)" stroke-width="1.9" stroke-linejoin="miter"/>
<text x="98.4" y="240.9" font-size="13" fill="rgb(240,178,30)" textLength="17.0" lengthAdjust="spacingAndGlyphs" stroke="rgb(240,178,30)" stroke-width="0.4">A7</text>
<path d="M57.13,264.30 L62.65,260.09 L62.65,262.75 L77.85,262.75 L77.85,267.45 L62.65,267.45 L62.65,269.71 Z" fill="none" stroke="rgb(240,15,40)" stroke-width="1.9" stroke-linejoin="miter"/>
<text x="59.0" y="290" font-size="13" fill="rgb(240,15,40)" textLength="28.0" lengthAdjust="spacingAndGlyphs" stroke="rgb(240,15,40)" stroke-width="0.4">AlSb</text>
<line x1="261.5" y1="210" x2="261.5" y2="347.8" stroke="#a8a8a8" stroke-width="1"/>
<line x1="261.5" y1="347.8" x2="434" y2="347.8" stroke="#a8a8a8" stroke-width="1"/>
<line x1="259.0" y1="223.5" x2="261.5" y2="223.5" stroke="#a8a8a8" stroke-width="1"/>
<line x1="434" y1="223.5" x2="436.5" y2="223.5" stroke="#a8a8a8" stroke-width="1"/>
<text x="254.2" y="227.5" font-size="11" font-weight="bold" fill="#262626" text-anchor="end" stroke="#262626" stroke-width="0.25">600</text>
<line x1="259.0" y1="245.6" x2="261.5" y2="245.6" stroke="#a8a8a8" stroke-width="1"/>
<line x1="434" y1="245.6" x2="436.5" y2="245.6" stroke="#a8a8a8" stroke-width="1"/>
<text x="254.2" y="249.6" font-size="11" font-weight="bold" fill="#262626" text-anchor="end" stroke="#262626" stroke-width="0.25">500</text>
<line x1="259.0" y1="267.7" x2="261.5" y2="267.7" stroke="#a8a8a8" stroke-width="1"/>
<line x1="434" y1="267.7" x2="436.5" y2="267.7" stroke="#a8a8a8" stroke-width="1"/>
<text x="254.2" y="271.7" font-size="11" font-weight="bold" fill="#262626" text-anchor="end" stroke="#262626" stroke-width="0.25">400</text>
<line x1="259.0" y1="289.8" x2="261.5" y2="289.8" stroke="#a8a8a8" stroke-width="1"/>
<line x1="434" y1="289.8" x2="436.5" y2="289.8" stroke="#a8a8a8" stroke-width="1"/>
<text x="254.2" y="293.8" font-size="11" font-weight="bold" fill="#262626" text-anchor="end" stroke="#262626" stroke-width="0.25">300</text>
<line x1="259.0" y1="311.9" x2="261.5" y2="311.9" stroke="#a8a8a8" stroke-width="1"/>
<line x1="434" y1="311.9" x2="436.5" y2="311.9" stroke="#a8a8a8" stroke-width="1"/>
<text x="254.2" y="315.9" font-size="11" font-weight="bold" fill="#262626" text-anchor="end" stroke="#262626" stroke-width="0.25">200</text>
<line x1="259.0" y1="334.0" x2="261.5" y2="334.0" stroke="#a8a8a8" stroke-width="1"/>
<line x1="434" y1="334.0" x2="436.5" y2="334.0" stroke="#a8a8a8" stroke-width="1"/>
<text x="254.2" y="338.0" font-size="11" font-weight="bold" fill="#262626" text-anchor="end" stroke="#262626" stroke-width="0.25">100</text>
<line x1="290" y1="347.8" x2="290" y2="350.3" stroke="#a8a8a8" stroke-width="1"/>
<line x1="290" y1="207.5" x2="290" y2="210" stroke="#a8a8a8" stroke-width="1"/>
<text x="290" y="366" font-size="11" font-weight="bold" fill="#262626" text-anchor="middle" stroke="#262626" stroke-width="0.25">30</text>
<line x1="347.5" y1="347.8" x2="347.5" y2="350.3" stroke="#a8a8a8" stroke-width="1"/>
<line x1="347.5" y1="207.5" x2="347.5" y2="210" stroke="#a8a8a8" stroke-width="1"/>
<text x="347.5" y="366" font-size="11" font-weight="bold" fill="#262626" text-anchor="middle" stroke="#262626" stroke-width="0.25">40</text>
<line x1="405" y1="347.8" x2="405" y2="350.3" stroke="#a8a8a8" stroke-width="1"/>
<line x1="405" y1="207.5" x2="405" y2="210" stroke="#a8a8a8" stroke-width="1"/>
<text x="405" y="366" font-size="11" font-weight="bold" fill="#262626" text-anchor="middle" stroke="#262626" stroke-width="0.25">50</text>
<g clip-path="url(#c4)">
<rect x="266.00" y="210.00" width="168.00" height="137.80" fill="url(#g47)"/>
<rect x="266.00" y="210.00" width="5.50" height="137.80" fill="rgb(42,68,198)"/>
<rect x="271.50" y="219.60" width="53.50" height="128.20" fill="rgb(52,55,172)"/>
<rect x="325.00" y="219.60" width="33.00" height="128.20" fill="url(#g48)"/>
<rect x="266.00" y="210.00" width="168.00" height="9.60" fill="url(#g49)"/>
<rect x="267.90" y="210.00" width="4.40" height="137.80" fill="url(#g50)"/>
<rect x="268.60" y="210.00" width="3.00" height="137.80" fill="rgb(35,130,225)" filter="url(#lblur)" opacity="0.8"/>
<rect x="269.35" y="210.00" width="1.50" height="137.80" fill="rgb(45,175,225)" filter="url(#lblur)"/>
<rect x="286.70" y="218.80" width="7.00" height="129.00" fill="url(#g51)"/>
<rect x="288.70" y="218.80" width="3.00" height="129.00" fill="rgb(80,170,190)" filter="url(#lblur)" opacity="0.8"/>
<rect x="289.45" y="218.80" width="1.50" height="129.00" fill="rgb(205,225,95)" filter="url(#lblur)"/>
<rect x="291.60" y="210.00" width="1.60" height="9.60" fill="rgb(50,150,210)" filter="url(#lblur)"/>
<rect x="351.50" y="219.60" width="8.00" height="128.20" fill="url(#g52)"/>
<path d="M353.60,218.8 L355.40,218.8 L357.30,347.8 L355.50,347.8 Z" fill="rgb(195,218,95)" filter="url(#lblur)"/>
<rect x="360.50" y="210.00" width="10.00" height="137.80" fill="url(#g53)"/>
<rect x="363.50" y="210.00" width="4.00" height="137.80" fill="rgb(35,145,220)" filter="url(#lblur)" opacity="0.8"/>
<rect x="364.50" y="210.00" width="2.00" height="137.80" fill="rgb(50,175,195)" filter="url(#lblur)"/>
<rect x="391.00" y="219.60" width="8.00" height="128.20" fill="url(#g54)"/>
<rect x="393.20" y="219.60" width="3.60" height="128.20" fill="rgb(35,145,220)" filter="url(#lblur)" opacity="0.8"/>
<rect x="394.10" y="219.60" width="1.80" height="128.20" fill="rgb(45,180,195)" filter="url(#lblur)"/>
<rect x="398.50" y="218.00" width="8.00" height="129.80" fill="url(#g55)"/>
<path d="M400.30,218 L402.10,218 L404.10,347.8 L402.30,347.8 Z" fill="rgb(140,208,130)" filter="url(#lblur)"/>
<rect x="406.60" y="210.00" width="2.00" height="137.80" fill="rgb(45,135,215)" filter="url(#lblur)"/>
<rect x="419.80" y="210.00" width="2.00" height="137.80" fill="rgb(45,140,210)" filter="url(#lblur)"/>
</g>
<text x="218" y="373.0" font-size="17.6" font-weight="bold" fill="#262626" textLength="20.5" lengthAdjust="spacingAndGlyphs" stroke="#262626" stroke-width="0.4">(d)</text>
<text x="347.3" y="379" font-size="9.5" font-weight="bold" fill="#262626" text-anchor="middle" textLength="59.4" lengthAdjust="spacingAndGlyphs">2θ (degrees)</text>
<text transform="translate(231,278.5) rotate(-90)" font-size="10" font-weight="bold" fill="#262626" text-anchor="middle" textLength="82" lengthAdjust="spacingAndGlyphs" stroke="#262626" stroke-width="0.3">Temperature (°C)</text>
<path d="M290.13,242.80 L295.75,237.99 L295.75,240.15 L310.35,240.15 L310.35,245.35 L295.75,245.35 L295.75,247.61 Z" fill="none" stroke="rgb(245,235,25)" stroke-width="1.9" stroke-linejoin="miter"/>
<text x="317.8" y="248.4" font-size="13" fill="rgb(240,178,30)" textLength="16.3" lengthAdjust="spacingAndGlyphs" stroke="rgb(240,178,30)" stroke-width="0.4">A7</text>
<path d="M274.23,279.80 L278.85,275.69 L278.85,278.05 L294.15,278.05 L294.15,282.05 L278.85,282.05 L278.85,284.61 Z" fill="none" stroke="rgb(240,15,40)" stroke-width="1.9" stroke-linejoin="miter"/>
<text x="275.0" y="305.2" font-size="13.6" fill="rgb(240,15,40)" textLength="28.4" lengthAdjust="spacingAndGlyphs" stroke="rgb(240,15,40)" stroke-width="0.4">AlSb</text>
<line x1="492.375" y1="216.9" x2="492.375" y2="340.6" stroke="#e0e0e0" stroke-width="0.6" stroke-dasharray="1.5,1.5"/>
<line x1="505.04999999999995" y1="216.9" x2="505.04999999999995" y2="340.6" stroke="#e0e0e0" stroke-width="0.6" stroke-dasharray="1.5,1.5"/>
<line x1="517.725" y1="216.9" x2="517.725" y2="340.6" stroke="#e0e0e0" stroke-width="0.6" stroke-dasharray="1.5,1.5"/>
<line x1="530.4" y1="216.9" x2="530.4" y2="340.6" stroke="#e0e0e0" stroke-width="0.6" stroke-dasharray="1.5,1.5"/>
<line x1="543.0749999999999" y1="216.9" x2="543.0749999999999" y2="340.6" stroke="#e0e0e0" stroke-width="0.6" stroke-dasharray="1.5,1.5"/>
<line x1="555.75" y1="216.9" x2="555.75" y2="340.6" stroke="#e0e0e0" stroke-width="0.6" stroke-dasharray="1.5,1.5"/>
<line x1="568.425" y1="216.9" x2="568.425" y2="340.6" stroke="#e0e0e0" stroke-width="0.6" stroke-dasharray="1.5,1.5"/>
<line x1="581.0999999999999" y1="216.9" x2="581.0999999999999" y2="340.6" stroke="#e0e0e0" stroke-width="0.6" stroke-dasharray="1.5,1.5"/>
<line x1="593.775" y1="216.9" x2="593.775" y2="340.6" stroke="#e0e0e0" stroke-width="0.6" stroke-dasharray="1.5,1.5"/>
<line x1="606.4499999999999" y1="216.9" x2="606.4499999999999" y2="340.6" stroke="#e0e0e0" stroke-width="0.6" stroke-dasharray="1.5,1.5"/>
<line x1="619.125" y1="216.9" x2="619.125" y2="340.6" stroke="#e0e0e0" stroke-width="0.6" stroke-dasharray="1.5,1.5"/>
<path d="M484.77,281.15 L485.26,281.04 L485.75,280.87 L486.24,280.58 L486.73,280.08 L487.22,279.10 L487.71,277.24 L488.20,275.11 L488.69,276.06 L489.18,278.33 L489.67,279.69 L490.16,280.37 L490.65,280.74 L491.14,280.96 L491.63,281.09 L492.12,281.18 L492.61,281.24 L493.10,281.29 L493.59,281.32 L494.08,281.34 L494.57,281.36 L495.06,281.37 L495.55,281.38 L496.04,281.39 L496.53,281.40 L497.02,281.40 L497.51,281.41 L498.00,281.41 L498.49,281.41 L498.98,281.40 L499.47,281.40 L499.96,281.40 L500.45,281.39 L500.94,281.38 L501.43,281.37 L501.92,281.36 L502.41,281.34 L502.90,281.32 L503.39,281.28 L503.88,281.24 L504.37,281.18 L504.86,281.09 L505.35,280.96 L505.84,280.77 L506.33,280.45 L506.82,279.92 L507.31,279.10 L507.80,278.20 L508.29,278.09 L508.78,278.93 L509.27,279.80 L509.77,280.38 L510.26,280.73 L510.75,280.94 L511.24,281.08 L511.73,281.18 L512.22,281.24 L512.71,281.29 L513.20,281.32 L513.69,281.35 L514.18,281.37 L514.67,281.39 L515.16,281.40 L515.65,281.41 L516.14,281.42 L516.63,281.43 L517.12,281.44 L517.61,281.44 L518.10,281.45 L518.59,281.45 L519.08,281.46 L519.57,281.46 L520.06,281.46 L520.55,281.46 L521.04,281.47 L521.53,281.47 L522.02,281.47 L522.51,281.47 L523.00,281.47 L523.49,281.47 L523.98,281.48 L524.47,281.48 L524.96,281.48 L525.45,281.48 L525.94,281.48 L526.43,281.48 L526.92,281.48 L527.41,281.48 L527.90,281.48 L528.39,281.48 L528.88,281.48 L529.37,281.48 L529.86,281.48 L530.35,281.48 L530.84,281.48 L531.33,281.49 L531.82,281.49 L532.31,281.49 L532.80,281.49 L533.29,281.49 L533.78,281.49 L534.27,281.49 L534.76,281.49 L535.25,281.49 L535.74,281.49 L536.23,281.49 L536.72,281.49 L537.21,281.49 L537.70,281.49 L538.19,281.49 L538.68,281.49 L539.17,281.49 L539.66,281.49 L540.15,281.49 L540.64,281.49 L541.13,281.49 L541.62,281.49 L542.11,281.49 L542.60,281.49 L543.09,281.49 L543.58,281.49 L544.07,281.49 L544.56,281.49 L545.05,281.49 L545.54,281.49 L546.03,281.49 L546.52,281.49 L547.01,281.49 L547.50,281.49 L547.99,281.49 L548.48,281.48 L548.97,281.48 L549.46,281.48 L549.95,281.48 L550.44,281.48 L550.93,281.48 L551.42,281.48 L551.91,281.48 L552.40,281.48 L552.89,281.48 L553.38,281.48 L553.87,281.48 L554.36,281.48 L554.85,281.48 L555.34,281.47 L555.83,281.47 L556.32,281.47 L556.81,281.47 L557.30,281.47 L557.79,281.47 L558.28,281.46 L558.78,281.46 L559.27,281.46 L559.76,281.46 L560.25,281.45 L560.74,281.45 L561.23,281.44 L561.72,281.44 L562.21,281.43 L562.70,281.42 L563.19,281.41 L563.68,281.40 L564.17,281.39 L564.66,281.37 L565.15,281.35 L565.64,281.33 L566.13,281.29 L566.62,281.25 L567.11,281.19 L567.60,281.10 L568.09,280.98 L568.58,280.79 L569.07,280.48 L569.56,279.98 L570.05,279.18 L570.54,278.15 L571.03,277.71 L571.52,278.43 L572.01,279.43 L572.50,280.15 L572.99,280.58 L573.48,280.85 L573.97,281.02 L574.46,281.13 L574.95,281.21 L575.44,281.26 L575.93,281.30 L576.42,281.33 L576.91,281.36 L577.40,281.38 L577.89,281.39 L578.38,281.41 L578.87,281.42 L579.36,281.42 L579.85,281.43 L580.34,281.44 L580.83,281.44 L581.32,281.45 L581.81,281.45 L582.30,281.45 L582.79,281.46 L583.28,281.46 L583.77,281.46 L584.26,281.46 L584.75,281.46 L585.24,281.47 L585.73,281.47 L586.22,281.47 L586.71,281.47 L587.20,281.47 L587.69,281.47 L588.18,281.47 L588.67,281.47 L589.16,281.47 L589.65,281.47 L590.14,281.47 L590.63,281.47 L591.12,281.47 L591.61,281.47 L592.10,281.47 L592.59,281.47 L593.08,281.47 L593.57,281.47 L594.06,281.47 L594.55,281.47 L595.04,281.46 L595.53,281.46 L596.02,281.46 L596.51,281.46 L597.00,281.46 L597.49,281.45 L597.98,281.45 L598.47,281.45 L598.96,281.44 L599.45,281.44 L599.94,281.43 L600.43,281.43 L600.92,281.42 L601.41,281.41 L601.90,281.40 L602.39,281.38 L602.88,281.36 L603.37,281.34 L603.86,281.30 L604.35,281.26 L604.84,281.20 L605.33,281.12 L605.82,280.99 L606.31,280.79 L606.80,280.47 L607.29,279.94 L607.79,279.15 L608.28,278.38 L608.77,278.47 L609.26,279.30 L609.75,280.05 L610.24,280.53 L610.73,280.82 L611.22,281.01 L611.71,281.12 L612.20,281.20 L612.69,281.25 L613.18,281.29 L613.67,281.32 L614.16,281.34 L614.65,281.35 L615.14,281.36 L615.63,281.37 L616.12,281.37 L616.61,281.36 L617.10,281.35 L617.59,281.34 L618.08,281.31 L618.57,281.28 L619.06,281.22 L619.55,281.12 L620.04,280.97 L620.53,280.71 L621.02,280.33 L621.51,280.00 L622.00,280.10 L622.49,280.49 L622.98,280.84 L623.47,281.05 L623.96,281.18 L624.45,281.27 L624.94,281.32 L625.43,281.36 L625.92,281.38 L626.41,281.40 L626.90,281.42 L627.39,281.43 L627.88,281.44 L628.37,281.45 L628.86,281.45 L629.35,281.46 L629.84,281.46 L630.33,281.46 L630.82,281.47 L631.31,281.47 L631.80,281.47" fill="none" stroke="rgb(30,40,240)" stroke-width="1.4" stroke-linejoin="round"/>
<path d="M484.77,295.04 L485.26,294.93 L485.75,294.75 L486.24,294.47 L486.73,293.96 L487.22,292.99 L487.71,291.12 L488.20,289.00 L488.69,289.94 L489.18,292.21 L489.67,293.57 L490.16,294.25 L490.65,294.62 L491.14,294.83 L491.63,294.97 L492.12,295.05 L492.61,295.11 L493.10,295.15 L493.59,295.18 L494.08,295.20 L494.57,295.22 L495.06,295.23 L495.55,295.23 L496.04,295.24 L496.53,295.24 L497.02,295.23 L497.51,295.23 L498.00,295.22 L498.49,295.20 L498.98,295.18 L499.47,295.16 L499.96,295.13 L500.45,295.08 L500.94,295.02 L501.43,294.94 L501.92,294.81 L502.41,294.63 L502.90,294.31 L503.39,293.75 L503.88,292.61 L504.37,290.06 L504.86,285.73 L505.35,286.59 L505.84,290.51 L506.33,292.28 L506.82,292.74 L507.31,292.50 L507.80,291.98 L508.29,292.05 L508.78,292.87 L509.27,293.68 L509.77,294.23 L510.26,294.56 L510.75,294.78 L511.24,294.92 L511.73,295.01 L512.22,295.08 L512.71,295.13 L513.20,295.17 L513.69,295.21 L514.18,295.23 L514.67,295.25 L515.16,295.27 L515.65,295.28 L516.14,295.29 L516.63,295.30 L517.12,295.31 L517.61,295.32 L518.10,295.32 L518.59,295.33 L519.08,295.33 L519.57,295.34 L520.06,295.34 L520.55,295.34 L521.04,295.35 L521.53,295.35 L522.02,295.35 L522.51,295.35 L523.00,295.36 L523.49,295.36 L523.98,295.36 L524.47,295.36 L524.96,295.36 L525.45,295.36 L525.94,295.37 L526.43,295.37 L526.92,295.37 L527.41,295.37 L527.90,295.37 L528.39,295.37 L528.88,295.37 L529.37,295.37 L529.86,295.37 L530.35,295.37 L530.84,295.37 L531.33,295.37 L531.82,295.37 L532.31,295.37 L532.80,295.37 L533.29,295.37 L533.78,295.37 L534.27,295.37 L534.76,295.37 L535.25,295.37 L535.74,295.37 L536.23,295.37 L536.72,295.37 L537.21,295.37 L537.70,295.37 L538.19,295.37 L538.68,295.37 L539.17,295.37 L539.66,295.37 L540.15,295.37 L540.64,295.37 L541.13,295.37 L541.62,295.37 L542.11,295.37 L542.60,295.37 L543.09,295.37 L543.58,295.37 L544.07,295.37 L544.56,295.37 L545.05,295.37 L545.54,295.37 L546.03,295.37 L546.52,295.36 L547.01,295.36 L547.50,295.36 L547.99,295.36 L548.48,295.36 L548.97,295.36 L549.46,295.36 L549.95,295.35 L550.44,295.35 L550.93,295.35 L551.42,295.35 L551.91,295.34 L552.40,295.34 L552.89,295.34 L553.38,295.33 L553.87,295.33 L554.36,295.32 L554.85,295.31 L555.34,295.30 L555.83,295.29 L556.32,295.28 L556.81,295.26 L557.30,295.25 L557.79,295.22 L558.28,295.19 L558.78,295.15 L559.27,295.09 L559.76,295.00 L560.25,294.87 L560.74,294.65 L561.23,294.25 L561.72,293.46 L562.21,291.81 L562.70,289.54 L563.19,290.29 L563.68,292.54 L564.17,293.78 L564.66,294.36 L565.15,294.65 L565.64,294.81 L566.13,294.89 L566.62,294.92 L567.11,294.93 L567.60,294.90 L568.09,294.84 L568.58,294.74 L569.07,294.59 L569.56,294.33 L570.05,293.91 L570.54,293.20 L571.03,291.98 L571.52,290.27 L572.01,289.35 L572.50,290.51 L572.99,292.20 L573.48,293.35 L573.97,294.02 L574.46,294.42 L574.95,294.67 L575.44,294.84 L575.93,294.95 L576.42,295.03 L576.91,295.09 L577.40,295.14 L577.89,295.17 L578.38,295.20 L578.87,295.22 L579.36,295.24 L579.85,295.25 L580.34,295.26 L580.83,295.27 L581.32,295.28 L581.81,295.28 L582.30,295.29 L582.79,295.29 L583.28,295.30 L583.77,295.30 L584.26,295.30 L584.75,295.30 L585.24,295.30 L585.73,295.30 L586.22,295.30 L586.71,295.30 L587.20,295.30 L587.69,295.29 L588.18,295.29 L588.67,295.29 L589.16,295.28 L589.65,295.27 L590.14,295.26 L590.63,295.25 L591.12,295.24 L591.61,295.22 L592.10,295.20 L592.59,295.17 L593.08,295.14 L593.57,295.09 L594.06,295.02 L594.55,294.93 L595.04,294.78 L595.53,294.55 L596.02,294.17 L596.51,293.58 L597.00,292.91 L597.49,292.76 L597.98,293.30 L598.47,293.90 L598.96,294.28 L599.45,294.47 L599.94,294.54 L600.43,294.52 L600.92,294.41 L601.41,294.17 L601.90,293.74 L602.39,293.02 L602.88,292.00 L603.37,291.34 L603.86,291.84 L604.35,292.84 L604.84,293.57 L605.33,293.99 L605.82,294.19 L606.31,294.23 L606.80,294.13 L607.29,293.84 L607.79,293.28 L608.28,292.39 L608.77,291.50 L609.26,291.59 L609.75,292.58 L610.24,293.49 L610.73,294.09 L611.22,294.45 L611.71,294.67 L612.20,294.81 L612.69,294.91 L613.18,294.97 L613.67,295.01 L614.16,295.04 L614.65,295.05 L615.14,295.05 L615.63,295.04 L616.12,295.01 L616.61,294.96 L617.10,294.89 L617.59,294.78 L618.08,294.61 L618.57,294.34 L619.06,293.89 L619.55,293.15 L620.04,292.06 L620.53,291.18 L621.02,291.54 L621.51,292.67 L622.00,293.60 L622.49,294.19 L622.98,294.54 L623.47,294.77 L623.96,294.91 L624.45,295.01 L624.94,295.08 L625.43,295.14 L625.92,295.18 L626.41,295.21 L626.90,295.23 L627.39,295.25 L627.88,295.27 L628.37,295.28 L628.86,295.29 L629.35,295.30 L629.84,295.31 L630.33,295.32 L630.82,295.32 L631.31,295.33 L631.80,295.33" fill="none" stroke="rgb(30,230,30)" stroke-width="1.4" stroke-linejoin="round"/>
<path d="M484.77,308.67 L485.26,308.58 L485.75,308.42 L486.24,308.17 L486.73,307.72 L487.22,306.85 L487.71,305.18 L488.20,303.29 L488.69,304.13 L489.18,306.16 L489.67,307.36 L490.16,307.97 L490.65,308.30 L491.14,308.49 L491.63,308.61 L492.12,308.69 L492.61,308.74 L493.10,308.78 L493.59,308.80 L494.08,308.82 L494.57,308.84 L495.06,308.84 L495.55,308.85 L496.04,308.85 L496.53,308.85 L497.02,308.85 L497.51,308.84 L498.00,308.83 L498.49,308.82 L498.98,308.80 L499.47,308.78 L499.96,308.75 L500.45,308.71 L500.94,308.65 L501.43,308.58 L501.92,308.46 L502.41,308.29 L502.90,308.01 L503.39,307.50 L503.88,306.47 L504.37,304.17 L504.86,300.27 L505.35,301.02 L505.84,304.53 L506.33,306.10 L506.82,306.48 L507.31,306.18 L507.80,305.64 L508.29,305.69 L508.78,306.50 L509.27,307.31 L509.77,307.85 L510.26,308.18 L510.75,308.39 L511.24,308.53 L511.73,308.62 L512.22,308.69 L512.71,308.74 L513.20,308.78 L513.69,308.81 L514.18,308.84 L514.67,308.86 L515.16,308.87 L515.65,308.88 L516.14,308.90 L516.63,308.90 L517.12,308.91 L517.61,308.92 L518.10,308.93 L518.59,308.93 L519.08,308.94 L519.57,308.94 L520.06,308.94 L520.55,308.95 L521.04,308.95 L521.53,308.95 L522.02,308.95 L522.51,308.96 L523.00,308.96 L523.49,308.96 L523.98,308.96 L524.47,308.96 L524.96,308.96 L525.45,308.97 L525.94,308.97 L526.43,308.97 L526.92,308.97 L527.41,308.97 L527.90,308.97 L528.39,308.97 L528.88,308.97 L529.37,308.97 L529.86,308.97 L530.35,308.97 L530.84,308.97 L531.33,308.97 L531.82,308.97 L532.31,308.97 L532.80,308.97 L533.29,308.97 L533.78,308.98 L534.27,308.98 L534.76,308.98 L535.25,308.98 L535.74,308.98 L536.23,308.98 L536.72,308.98 L537.21,308.98 L537.70,308.98 L538.19,308.98 L538.68,308.97 L539.17,308.97 L539.66,308.97 L540.15,308.97 L540.64,308.97 L541.13,308.97 L541.62,308.97 L542.11,308.97 L542.60,308.97 L543.09,308.97 L543.58,308.97 L544.07,308.97 L544.56,308.97 L545.05,308.97 L545.54,308.97 L546.03,308.97 L546.52,308.97 L547.01,308.96 L547.50,308.96 L547.99,308.96 L548.48,308.96 L548.97,308.96 L549.46,308.96 L549.95,308.96 L550.44,308.95 L550.93,308.95 L551.42,308.95 L551.91,308.94 L552.40,308.94 L552.89,308.94 L553.38,308.93 L553.87,308.93 L554.36,308.92 L554.85,308.91 L555.34,308.90 L555.83,308.89 L556.32,308.88 L556.81,308.87 L557.30,308.85 L557.79,308.82 L558.28,308.79 L558.78,308.75 L559.27,308.69 L559.76,308.60 L560.25,308.47 L560.74,308.25 L561.23,307.85 L561.72,307.06 L562.21,305.42 L562.70,303.15 L563.19,303.90 L563.68,306.15 L564.17,307.39 L564.66,307.97 L565.15,308.26 L565.64,308.42 L566.13,308.50 L566.62,308.54 L567.11,308.54 L567.60,308.52 L568.09,308.47 L568.58,308.38 L569.07,308.23 L569.56,308.00 L570.05,307.61 L570.54,306.94 L571.03,305.80 L571.52,304.21 L572.01,303.35 L572.50,304.44 L572.99,306.01 L573.48,307.08 L573.97,307.71 L574.46,308.08 L574.95,308.32 L575.44,308.47 L575.93,308.58 L576.42,308.65 L576.91,308.71 L577.40,308.75 L577.89,308.78 L578.38,308.81 L578.87,308.83 L579.36,308.84 L579.85,308.86 L580.34,308.87 L580.83,308.88 L581.32,308.88 L581.81,308.89 L582.30,308.89 L582.79,308.90 L583.28,308.90 L583.77,308.90 L584.26,308.90 L584.75,308.91 L585.24,308.91 L585.73,308.90 L586.22,308.90 L586.71,308.90 L587.20,308.90 L587.69,308.90 L588.18,308.89 L588.67,308.89 L589.16,308.88 L589.65,308.87 L590.14,308.87 L590.63,308.85 L591.12,308.84 L591.61,308.82 L592.10,308.80 L592.59,308.78 L593.08,308.74 L593.57,308.69 L594.06,308.62 L594.55,308.53 L595.04,308.38 L595.53,308.15 L596.02,307.77 L596.51,307.18 L597.00,306.51 L597.49,306.36 L597.98,306.90 L598.47,307.50 L598.96,307.88 L599.45,308.07 L599.94,308.15 L600.43,308.12 L600.92,308.01 L601.41,307.77 L601.90,307.34 L602.39,306.62 L602.88,305.61 L603.37,304.94 L603.86,305.44 L604.35,306.44 L604.84,307.18 L605.33,307.59 L605.82,307.79 L606.31,307.83 L606.80,307.73 L607.29,307.44 L607.79,306.88 L608.28,305.99 L608.77,305.10 L609.26,305.19 L609.75,306.18 L610.24,307.09 L610.73,307.69 L611.22,308.05 L611.71,308.27 L612.20,308.42 L612.69,308.51 L613.18,308.57 L613.67,308.61 L614.16,308.64 L614.65,308.65 L615.14,308.65 L615.63,308.64 L616.12,308.61 L616.61,308.56 L617.10,308.49 L617.59,308.38 L618.08,308.21 L618.57,307.94 L619.06,307.49 L619.55,306.75 L620.04,305.66 L620.53,304.78 L621.02,305.14 L621.51,306.27 L622.00,307.20 L622.49,307.79 L622.98,308.14 L623.47,308.37 L623.96,308.51 L624.45,308.61 L624.94,308.68 L625.43,308.74 L625.92,308.78 L626.41,308.81 L626.90,308.83 L627.39,308.85 L627.88,308.87 L628.37,308.88 L628.86,308.89 L629.35,308.90 L629.84,308.91 L630.33,308.92 L630.82,308.92 L631.31,308.93 L631.80,308.93" fill="none" stroke="rgb(240,30,30)" stroke-width="1.4" stroke-linejoin="round"/>
<path d="M484.77,323.19 L485.26,323.11 L485.75,323.00 L486.24,322.82 L486.73,322.54 L487.22,322.05 L487.71,321.16 L488.20,319.63 L488.69,318.08 L489.18,318.64 L489.67,320.39 L490.16,321.61 L490.65,322.29 L491.14,322.67 L491.63,322.89 L492.12,323.03 L492.61,323.13 L493.10,323.19 L493.59,323.24 L494.08,323.27 L494.57,323.29 L495.06,323.31 L495.55,323.32 L496.04,323.33 L496.53,323.33 L497.02,323.33 L497.51,323.33 L498.00,323.32 L498.49,323.32 L498.98,323.30 L499.47,323.29 L499.96,323.27 L500.45,323.24 L500.94,323.20 L501.43,323.15 L501.92,323.09 L502.41,323.00 L502.90,322.86 L503.39,322.66 L503.88,322.33 L504.37,321.76 L504.86,320.64 L505.35,318.34 L505.84,314.73 L506.33,314.88 L506.82,318.10 L507.31,319.73 L507.80,320.02 L508.29,319.74 L508.78,319.91 L509.27,320.78 L509.77,321.65 L510.26,322.23 L510.75,322.59 L511.24,322.82 L511.73,322.97 L512.22,323.08 L512.71,323.15 L513.20,323.21 L513.69,323.25 L514.18,323.29 L514.67,323.31 L515.16,323.34 L515.65,323.35 L516.14,323.37 L516.63,323.38 L517.12,323.39 L517.61,323.40 L518.10,323.41 L518.59,323.42 L519.08,323.42 L519.57,323.43 L520.06,323.43 L520.55,323.44 L521.04,323.44 L521.53,323.44 L522.02,323.45 L522.51,323.45 L523.00,323.45 L523.49,323.45 L523.98,323.45 L524.47,323.46 L524.96,323.46 L525.45,323.46 L525.94,323.46 L526.43,323.46 L526.92,323.46 L527.41,323.46 L527.90,323.46 L528.39,323.47 L528.88,323.47 L529.37,323.47 L529.86,323.47 L530.35,323.47 L530.84,323.47 L531.33,323.47 L531.82,323.47 L532.31,323.47 L532.80,323.47 L533.29,323.47 L533.78,323.47 L534.27,323.47 L534.76,323.47 L535.25,323.47 L535.74,323.47 L536.23,323.47 L536.72,323.47 L537.21,323.47 L537.70,323.47 L538.19,323.47 L538.68,323.47 L539.17,323.47 L539.66,323.47 L540.15,323.47 L540.64,323.47 L541.13,323.47 L541.62,323.47 L542.11,323.47 L542.60,323.47 L543.09,323.47 L543.58,323.47 L544.07,323.47 L544.56,323.47 L545.05,323.46 L545.54,323.46 L546.03,323.46 L546.52,323.46 L547.01,323.46 L547.50,323.46 L547.99,323.46 L548.48,323.46 L548.97,323.45 L549.46,323.45 L549.95,323.45 L550.44,323.45 L550.93,323.45 L551.42,323.44 L551.91,323.44 L552.40,323.44 L552.89,323.43 L553.38,323.43 L553.87,323.42 L554.36,323.42 L554.85,323.41 L555.34,323.40 L555.83,323.39 L556.32,323.38 L556.81,323.37 L557.30,323.36 L557.79,323.34 L558.28,323.32 L558.78,323.29 L559.27,323.25 L559.76,323.20 L560.25,323.13 L560.74,323.03 L561.23,322.88 L561.72,322.63 L562.21,322.19 L562.70,321.37 L563.19,319.77 L563.68,317.67 L564.17,318.08 L564.66,320.21 L565.15,321.56 L565.64,322.24 L566.13,322.59 L566.62,322.78 L567.11,322.87 L567.60,322.92 L568.09,322.92 L568.58,322.89 L569.07,322.82 L569.56,322.71 L570.05,322.52 L570.54,322.23 L571.03,321.76 L571.52,320.97 L572.01,319.68 L572.50,317.94 L572.99,316.93 L573.48,317.95 L573.97,319.70 L574.46,321.00 L574.95,321.80 L575.44,322.29 L575.93,322.60 L576.42,322.80 L576.91,322.94 L577.40,323.04 L577.89,323.12 L578.38,323.17 L578.87,323.22 L579.36,323.25 L579.85,323.28 L580.34,323.30 L580.83,323.32 L581.32,323.33 L581.81,323.34 L582.30,323.35 L582.79,323.36 L583.28,323.37 L583.77,323.38 L584.26,323.38 L584.75,323.38 L585.24,323.39 L585.73,323.39 L586.22,323.39 L586.71,323.39 L587.20,323.39 L587.69,323.39 L588.18,323.39 L588.67,323.38 L589.16,323.38 L589.65,323.38 L590.14,323.37 L590.63,323.36 L591.12,323.35 L591.61,323.34 L592.10,323.33 L592.59,323.31 L593.08,323.29 L593.57,323.27 L594.06,323.23 L594.55,323.18 L595.04,323.12 L595.53,323.02 L596.02,322.88 L596.51,322.65 L597.00,322.29 L597.49,321.71 L597.98,321.03 L598.47,320.82 L598.96,321.33 L599.45,321.94 L599.94,322.33 L600.43,322.53 L600.92,322.60 L601.41,322.57 L601.90,322.45 L602.39,322.19 L602.88,321.73 L603.37,320.96 L603.86,319.85 L604.35,319.04 L604.84,319.52 L605.33,320.62 L605.82,321.47 L606.31,321.96 L606.80,322.20 L607.29,322.27 L607.79,322.19 L608.28,321.92 L608.77,321.40 L609.26,320.53 L609.75,319.61 L610.24,319.62 L610.73,320.58 L611.22,321.52 L611.71,322.13 L612.20,322.50 L612.69,322.73 L613.18,322.88 L613.67,322.97 L614.16,323.04 L614.65,323.08 L615.14,323.10 L615.63,323.11 L616.12,323.10 L616.61,323.08 L617.10,323.04 L617.59,322.98 L618.08,322.89 L618.57,322.76 L619.06,322.55 L619.55,322.21 L620.04,321.66 L620.53,320.75 L621.02,319.40 L621.51,318.23 L622.00,318.56 L622.49,319.97 L622.98,321.17 L623.47,321.94 L623.96,322.40 L624.45,322.69 L624.94,322.88 L625.43,323.01 L625.92,323.10 L626.41,323.17 L626.90,323.22 L627.39,323.26 L627.88,323.29 L628.37,323.32 L628.86,323.34 L629.35,323.36 L629.84,323.37 L630.33,323.38 L630.82,323.39 L631.31,323.40 L631.80,323.41" fill="none" stroke="#111" stroke-width="1.4" stroke-linejoin="round"/>
<line x1="505.3" y1="253.4" x2="505.3" y2="340.6" stroke="rgb(60,60,240)" stroke-width="1" stroke-dasharray="1.5,2"/>
<line x1="563.7" y1="249.8" x2="563.7" y2="340.6" stroke="rgb(60,60,240)" stroke-width="1" stroke-dasharray="1.5,2"/>
<rect x="479.7" y="216.9" width="152.09999999999997" height="123.70000000000002" fill="none" stroke="#222" stroke-width="1.3"/>
<line x1="479.7" y1="230.6" x2="482.2" y2="230.6" stroke="#222" stroke-width="1"/>
<line x1="479.7" y1="244.29999999999998" x2="482.2" y2="244.29999999999998" stroke="#222" stroke-width="1"/>
<line x1="479.7" y1="258.0" x2="482.2" y2="258.0" stroke="#222" stroke-width="1"/>
<line x1="479.7" y1="271.7" x2="482.2" y2="271.7" stroke="#222" stroke-width="1"/>
<line x1="479.7" y1="285.4" x2="482.2" y2="285.4" stroke="#222" stroke-width="1"/>
<line x1="479.7" y1="299.1" x2="482.2" y2="299.1" stroke="#222" stroke-width="1"/>
<line x1="479.7" y1="312.79999999999995" x2="482.2" y2="312.79999999999995" stroke="#222" stroke-width="1"/>
<line x1="479.7" y1="326.5" x2="482.2" y2="326.5" stroke="#222" stroke-width="1"/>
<line x1="479.7" y1="340.6" x2="479.7" y2="338.1" stroke="#222" stroke-width="1"/>
<line x1="492.375" y1="340.6" x2="492.375" y2="338.1" stroke="#222" stroke-width="1"/>
<line x1="505.04999999999995" y1="340.6" x2="505.04999999999995" y2="338.1" stroke="#222" stroke-width="1"/>
<line x1="517.725" y1="340.6" x2="517.725" y2="338.1" stroke="#222" stroke-width="1"/>
<line x1="530.4" y1="340.6" x2="530.4" y2="338.1" stroke="#222" stroke-width="1"/>
<line x1="543.0749999999999" y1="340.6" x2="543.0749999999999" y2="338.1" stroke="#222" stroke-width="1"/>
<line x1="555.75" y1="340.6" x2="555.75" y2="338.1" stroke="#222" stroke-width="1"/>
<line x1="568.425" y1="340.6" x2="568.425" y2="338.1" stroke="#222" stroke-width="1"/>
<line x1="581.0999999999999" y1="340.6" x2="581.0999999999999" y2="338.1" stroke="#222" stroke-width="1"/>
<line x1="593.775" y1="340.6" x2="593.775" y2="338.1" stroke="#222" stroke-width="1"/>
<line x1="606.4499999999999" y1="340.6" x2="606.4499999999999" y2="338.1" stroke="#222" stroke-width="1"/>
<line x1="619.125" y1="340.6" x2="619.125" y2="338.1" stroke="#222" stroke-width="1"/>
<line x1="631.8" y1="340.6" x2="631.8" y2="338.1" stroke="#222" stroke-width="1"/>
<text x="479.7" y="350.2" font-size="7.2" fill="#222" text-anchor="middle" textLength="8.2" lengthAdjust="spacingAndGlyphs" stroke="#222" stroke-width="0.3">25</text>
<text x="505.04999999999995" y="350.2" font-size="7.2" fill="#222" text-anchor="middle" textLength="8.2" lengthAdjust="spacingAndGlyphs" stroke="#222" stroke-width="0.3">30</text>
<text x="530.4" y="350.2" font-size="7.2" fill="#222" text-anchor="middle" textLength="8.2" lengthAdjust="spacingAndGlyphs" stroke="#222" stroke-width="0.3">35</text>
<text x="555.75" y="350.2" font-size="7.2" fill="#222" text-anchor="middle" textLength="8.2" lengthAdjust="spacingAndGlyphs" stroke="#222" stroke-width="0.3">40</text>
<text x="581.0999999999999" y="350.2" font-size="7.2" fill="#222" text-anchor="middle" textLength="8.2" lengthAdjust="spacingAndGlyphs" stroke="#222" stroke-width="0.3">45</text>
<text x="606.4499999999999" y="350.2" font-size="7.2" fill="#222" text-anchor="middle" textLength="8.2" lengthAdjust="spacingAndGlyphs" stroke="#222" stroke-width="0.3">50</text>
<text x="631.8" y="350.2" font-size="7.2" fill="#222" text-anchor="middle" textLength="8.2" lengthAdjust="spacingAndGlyphs" stroke="#222" stroke-width="0.3">55</text>
<text x="530" y="365.5" font-size="9" font-weight="bold" fill="#262626" textLength="52.4" lengthAdjust="spacingAndGlyphs">2θ (degrees)</text>
<text transform="translate(469.5,287.3) rotate(-90)" font-size="9" font-weight="bold" fill="#262626" text-anchor="middle" textLength="64.5" lengthAdjust="spacingAndGlyphs" stroke="#262626" stroke-width="0.3">Intensity (a.u.)</text>
<text x="448.5" y="373" font-size="18.5" font-weight="bold" fill="#262626" textLength="19.3" lengthAdjust="spacingAndGlyphs" stroke="#262626" stroke-width="0.4">(e)</text>
<text x="498.2" y="227.3" font-size="8.6" font-weight="bold" fill="#222" textLength="6.8" lengthAdjust="spacingAndGlyphs" stroke="#222" stroke-width="0.45">Al</text>
<text x="506" y="230.9" font-size="4.6" font-weight="bold" fill="#555" textLength="9.5" lengthAdjust="spacingAndGlyphs">0.20</text>
<rect x="517.20" y="223.60" width="2.00" height="1.80" fill="#333"/>
<text x="522.2" y="227.3" font-size="8.6" font-weight="bold" fill="#222" textLength="9.1" lengthAdjust="spacingAndGlyphs" stroke="#222" stroke-width="0.45">Sb</text>
<text x="532.5" y="231" font-size="4.6" font-weight="bold" fill="#555" textLength="9.4" lengthAdjust="spacingAndGlyphs">0.80</text>
<rect x="574.00" y="218.50" width="53.00" height="39.00" fill="#fff"/>
<line x1="577.5" y1="224.2" x2="594.5" y2="224.2" stroke="#111" stroke-width="1.6"/>
<text x="596.5" y="227.0" font-size="7.4" fill="#444" textLength="18.3" lengthAdjust="spacingAndGlyphs">50.70</text>
<circle cx="616.9" cy="223.10" r="0.8" fill="none" stroke="#777" stroke-width="0.55"/>
<text x="618.3" y="227.0" font-size="7.4" fill="#444" textLength="5.0" lengthAdjust="spacingAndGlyphs">C</text>
<line x1="577.5" y1="233.7" x2="594.5" y2="233.7" stroke="rgb(240,30,30)" stroke-width="1.6"/>
<text x="596.5" y="236.5" font-size="7.4" fill="#444" textLength="18.3" lengthAdjust="spacingAndGlyphs">499.5</text>
<circle cx="616.9" cy="232.60" r="0.8" fill="none" stroke="#777" stroke-width="0.55"/>
<text x="618.3" y="236.5" font-size="7.4" fill="#444" textLength="5.0" lengthAdjust="spacingAndGlyphs">C</text>
<line x1="577.5" y1="243" x2="594.5" y2="243" stroke="rgb(30,230,30)" stroke-width="1.6"/>
<text x="596.5" y="245.8" font-size="7.4" fill="#444" textLength="18.3" lengthAdjust="spacingAndGlyphs">598.5</text>
<circle cx="616.9" cy="241.90" r="0.8" fill="none" stroke="#777" stroke-width="0.55"/>
<text x="618.3" y="245.8" font-size="7.4" fill="#444" textLength="5.0" lengthAdjust="spacingAndGlyphs">C</text>
<line x1="577.5" y1="252.9" x2="594.5" y2="252.9" stroke="rgb(30,40,240)" stroke-width="1.6"/>
<text x="596.5" y="255.70000000000002" font-size="7.4" fill="#444" textLength="18.3" lengthAdjust="spacingAndGlyphs">631.0</text>
<circle cx="616.9" cy="251.80" r="0.8" fill="none" stroke="#777" stroke-width="0.55"/>
<text x="618.3" y="255.70000000000002" font-size="7.4" fill="#444" textLength="5.0" lengthAdjust="spacingAndGlyphs">C</text>
<text x="502.9" y="245.6" font-size="6.5" font-weight="bold" fill="rgb(40,40,230)" textLength="6.9" lengthAdjust="spacingAndGlyphs">A7</text>
<text x="500.7" y="251.6" font-size="5" font-weight="bold" fill="rgb(40,40,230)" textLength="12.8" lengthAdjust="spacingAndGlyphs">(012)</text>
<text x="559.2" y="240.1" font-size="6.5" font-weight="bold" fill="rgb(40,40,230)" textLength="8.2" lengthAdjust="spacingAndGlyphs">A7</text>
<text x="556" y="246.7" font-size="5" font-weight="bold" fill="rgb(40,40,230)" textLength="14.2" lengthAdjust="spacingAndGlyphs">(104)</text>
<text x="482" y="264.4" font-size="6.5" font-weight="bold" fill="rgb(235,30,40)" textLength="12.3" lengthAdjust="spacingAndGlyphs">AlSb</text>
<text x="483.3" y="271.5" font-size="5" font-weight="bold" fill="rgb(235,30,40)" textLength="12.7" lengthAdjust="spacingAndGlyphs">(111)</text>
<text x="563.4" y="267.5" font-size="6.5" font-weight="bold" fill="rgb(235,30,40)" textLength="15.4" lengthAdjust="spacingAndGlyphs">AlSb</text>
<text x="564.7" y="275" font-size="5" font-weight="bold" fill="rgb(235,30,40)" textLength="13.3" lengthAdjust="spacingAndGlyphs">(220)</text>
<text x="600" y="269" font-size="6.5" font-weight="bold" fill="rgb(235,30,40)" textLength="15.3" lengthAdjust="spacingAndGlyphs">AlSb</text>
<text x="603" y="275.5" font-size="5" font-weight="bold" fill="rgb(235,30,40)" textLength="12" lengthAdjust="spacingAndGlyphs">(311)</text></svg></body></html>
